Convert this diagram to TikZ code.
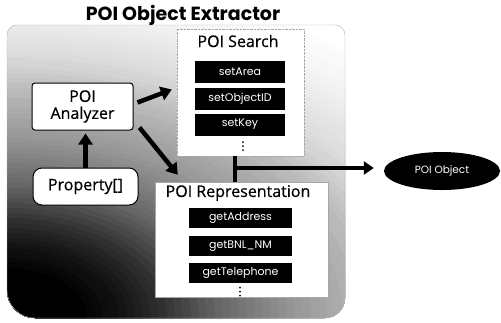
\documentclass[tikz,border=0pt]{standalone}
\usepackage{fontspec}
\setmainfont{Open Sans}
\newfontfamily\semib{Open Sans}[FakeBold=0.6]
\newfontfamily\pop{Poppins}
\usetikzlibrary{arrows.meta,shapes.geometric,calc}
\begin{document}
\begin{tikzpicture}[x=1pt,y=-1pt,
  panel/.style={draw=gray!70, fill=white, inner sep=0pt},
  bar/.style={fill=black, text=white, font=\pop\fontsize{11}{12}\selectfont, inner sep=0pt},
  ptitle/.style={font=\semib\fontsize{16}{19}\selectfont, inner sep=0pt},
  whitebox/.style={draw=black, fill=white, line width=1pt, align=center, inner sep=0pt, font=\semib\fontsize{16}{19}\selectfont},
  bigarrow/.style={line width=4.5pt, -{Triangle[length=11pt,width=14pt]}},
  dotmark/.style={fill=black, circle, inner sep=0pt, minimum size=2pt},
]
\useasboundingbox (0,0) rectangle (501,322);
% outer container with gradient from bottom-left
\begin{scope}
\clip (7,150) [rounded corners=10pt] -- (7,25) -- (345,25) [rounded corners=20pt] -- (345,318) [rounded corners=28pt] -- (7,318) [rounded corners=45pt] -- cycle;
\fill[white] (0,0) rectangle (360,330);
\foreach \d/\t in {345/0,340/1,335/2,330/2,325/3,320/3,315/4,310/5,305/6,300/7,295/8,290/9,285/10,280/11,275/12,270/13,265/14,260/16,255/17,250/19,245/21,240/23,235/25,230/27,225/28,220/30,215/31,210/33,205/34,200/36,195/37,190/39,185/40,180/42,175/44,170/46,165/48,160/50,155/52,150/54,145/56,140/58,135/60,130/63,125/66,120/69,115/72,110/75,105/78,100/81,95/83,90/86,85/88,80/90,75/92,70/94,65/95,60/97,55/98,50/100}{
  \pgfmathsetmacro\xr{1.6*\d}
  \fill[black!\t] (7,318) ellipse [x radius=\xr pt, y radius=\d pt];
}
\end{scope}
\draw[gray!60] (7,150) [rounded corners=10pt] -- (7,25) -- (345,25) [rounded corners=20pt] -- (345,318) [rounded corners=28pt] -- (7,318) [rounded corners=45pt] -- cycle;
% title
\node[font=\pop\bfseries\fontsize{19}{22}\selectfont, inner sep=0pt] (title) at (183,15) {POI Object Extractor};
% POI Search
\node[panel, densely dotted, minimum width=127pt, minimum height=127pt] (search) at (240.5,92.5) {};
\node[ptitle] (searcht) at (238,41) {POI Search};
\node[bar, minimum width=90pt, minimum height=22pt] (s1) at (240,72) {setArea};
\node[bar, minimum width=90pt, minimum height=22pt] (s2) at (240,98.5) {setObjectID};
\node[bar, minimum width=90pt, minimum height=22pt] (s3) at (240,124.5) {setKey};
\foreach \k in {1,2,3}{\node[dotmark] (sd\k) at (243,138+4*\k) {};}
% POI Representation
\node[panel, minimum width=173pt, minimum height=115pt] (repr) at (241.5,239.5) {};
\node[ptitle] (reprt) at (238,193) {POI Representation};
\node[bar, minimum width=103pt, minimum height=20pt] (r1) at (240.5,217.5) {getAddress};
\node[bar, minimum width=103pt, minimum height=20pt] (r2) at (240.5,246) {getBNL\_NM};
\node[bar, minimum width=103pt, minimum height=20pt] (r3) at (240.5,273) {getTelephone};
\foreach \k in {1,2,3}{\node[dotmark] (rd\k) at (240,283.5+4*\k) {};}
% Analyzer and Property
\node[whitebox, rounded corners=3pt, minimum width=101pt, minimum height=47pt] (analyzer) at (82.5,106.5) {POI\\[-2pt]Analyzer};
\node[whitebox, rounded corners=9pt, minimum width=105pt, minimum height=37pt] (property) at (85.5,186.5) {Property[]};
% POI Object
\node[ellipse, fill=black, text=white, inner sep=0pt, minimum width=116pt, minimum height=38pt, font=\pop\fontsize{10.5}{12}\selectfont] (obj) at (442,171) {POI Object};
% connectors
\coordinate (j) at (235,168);
\draw[bigarrow] ([shift={(4,-4)}]analyzer.east) -- ([shift={(-5,-3)}]search.west);
\draw[bigarrow] ([shift={(6,-3)}]analyzer.south east) -- ([shift={(23,-7)}]repr.north west);
\draw[bigarrow] (property.north) -- ($(property.north |- analyzer.south)+(0,3)$);
\draw[line width=4.5pt] (j |- search.south) -- (j |- repr.north);
\draw[line width=4pt, -{Triangle[length=10pt,width=13pt]}, shorten >=10pt] (j) -- (j -| obj.west);
\end{tikzpicture}
\end{document}
